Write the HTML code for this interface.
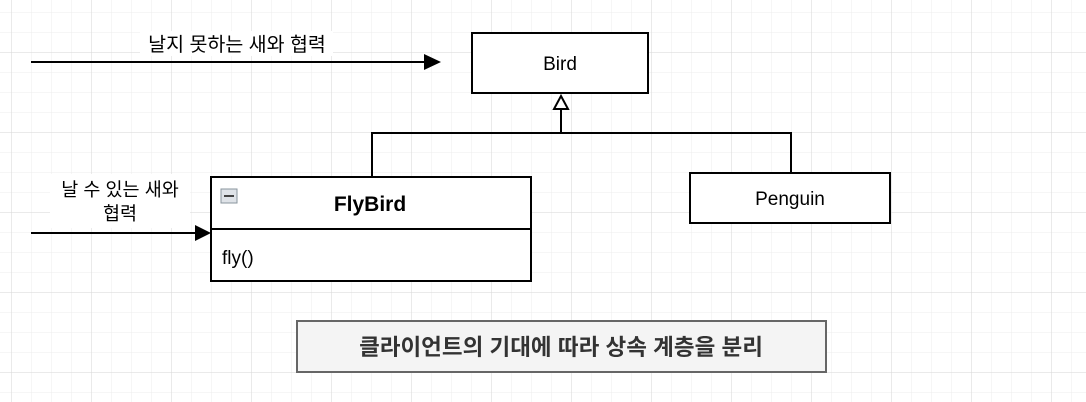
<!DOCTYPE html>
<html><head><meta charset="utf-8"><style>
html,body{margin:0;padding:0;background:#fff;}
svg{display:block;}
text{font-family:"Liberation Sans","Noto Sans CJK KR",sans-serif;}
</style></head><body>
<svg width="1086" height="402" viewBox="0 0 1086 402" xmlns="http://www.w3.org/2000/svg">
<defs>
<pattern id="minor" x="11" y="12" width="20" height="20" patternUnits="userSpaceOnUse">
<path d="M0 0H20M0 0V20" stroke="#ececec" stroke-width="1" fill="none"/>
</pattern>
<pattern id="major" x="11" y="52" width="80" height="80" patternUnits="userSpaceOnUse">
<path d="M0 0H80M0 0V80" stroke="#d6d6d6" stroke-width="1" fill="none"/>
</pattern>
</defs>
<rect width="1086" height="402" fill="#fff"/>
<rect width="1086" height="402" fill="url(#minor)"/>
<rect width="1086" height="402" fill="url(#major)"/>

<line x1="31" y1="62" x2="424" y2="62" stroke="#000" stroke-width="2"/>
<polygon points="424,54 441,62 424,70" fill="#000"/>
<rect x="140" y="31" width="193" height="25" fill="#fff"/>
<text x="237" y="51" font-size="19.5" text-anchor="middle" fill="#000">날지 못하는 새와 협력</text>

<rect x="472" y="33" width="176" height="60" fill="#fff" stroke="#000" stroke-width="2"/>
<text x="560" y="70" font-size="19" text-anchor="middle">Bird</text>

<polyline points="372,177 372,133 791,133 791,173" fill="none" stroke="#000" stroke-width="2"/>
<line x1="561" y1="109" x2="561" y2="133" stroke="#000" stroke-width="2"/>
<polygon points="561,96 554,109 568,109" fill="#fff" stroke="#000" stroke-width="2"/>

<rect x="211" y="177" width="320" height="104" fill="#fff" stroke="#000" stroke-width="2"/>
<line x1="211" y1="229" x2="531" y2="229" stroke="#000" stroke-width="2"/>
<rect x="221" y="189" width="16" height="14" fill="#dfe3e8" stroke="#8a949e" stroke-width="1"/>
<rect x="224" y="195" width="10" height="2" fill="#444"/>
<text x="370" y="211" font-size="21" font-weight="bold" text-anchor="middle">FlyBird</text>
<text x="222" y="264" font-size="19">fly()</text>

<rect x="690" y="173" width="200" height="50" fill="#fff" stroke="#000" stroke-width="2"/>
<text x="790" y="205" font-size="19" text-anchor="middle">Penguin</text>

<line x1="31" y1="233" x2="195" y2="233" stroke="#000" stroke-width="2"/>
<polygon points="195,225 211,233 195,241" fill="#000"/>
<rect x="50" y="174" width="140" height="54" fill="#fff"/>
<text x="120" y="196" font-size="18.5" text-anchor="middle">날 수 있는 새와</text>
<text x="120" y="220" font-size="18.5" text-anchor="middle">협력</text>

<rect x="297" y="321" width="529" height="51" fill="#f4f4f4" stroke="#666" stroke-width="2"/>
<text x="561" y="355" font-size="22.5" font-weight="bold" fill="#333" text-anchor="middle">클라이언트의 기대에 따라 상속 계층을 분리</text>
</svg>
</body></html>
